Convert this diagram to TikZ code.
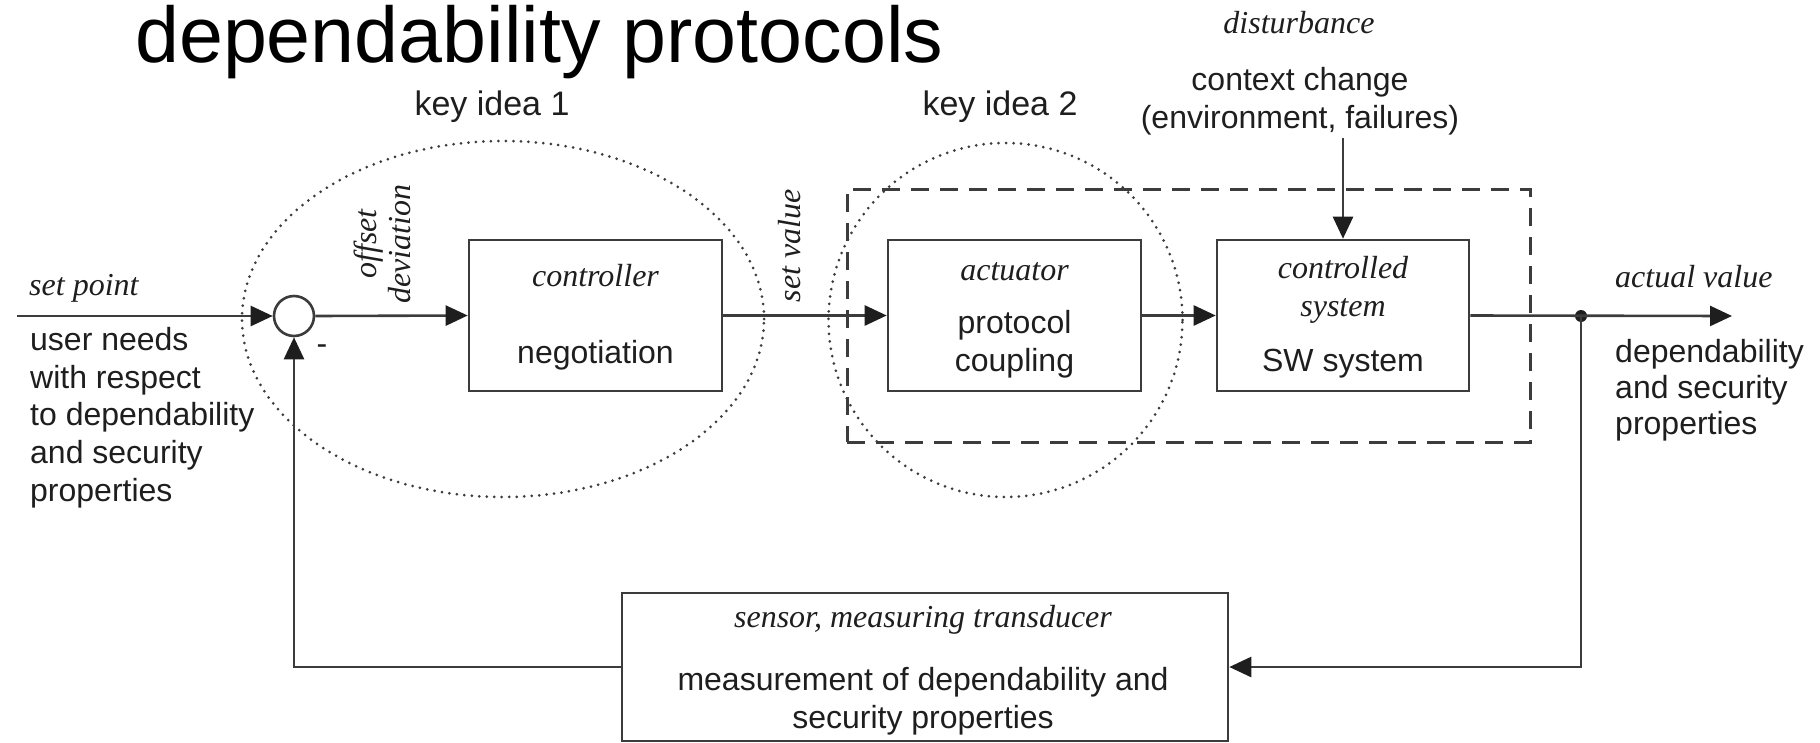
\documentclass[tikz,border=0pt]{standalone}
\usepackage{fontspec}
\setmainfont{Liberation Sans}
\newfontfamily\romfam{Liberation Serif}
\usetikzlibrary{arrows.meta,shapes.geometric}

\definecolor{ink}{HTML}{1E1E1E}
\definecolor{wire}{HTML}{3C3C3C}

\tikzset{
  sans/.style={font=\fontsize{32}{37.5}\selectfont, text=ink, inner sep=0pt},
  heading/.style={font=\fontsize{34}{40}\selectfont, text=ink, inner sep=0pt},
  ital/.style={font=\romfam\itshape\fontsize{32}{37.5}\selectfont, text=ink, inner sep=0pt},
  block/.style={draw=wire, line width=2.6pt, minimum width=253pt, minimum height=151pt, inner sep=0pt},
  wireline/.style={draw=wire, line width=2.6pt},
  flow/.style={wireline, -{Triangle[length=22pt,width=20pt,color=ink]}},
  idea/.style={draw=wire, line width=3pt, line cap=round, dash pattern=on 0pt off 7.5pt, inner sep=0pt},
  plantbox/.style={draw=wire, line width=3pt, dash pattern=on 18pt off 11pt, inner sep=0pt},
}

\begin{document}
\begin{tikzpicture}[x=1pt,y=-1pt]
\useasboundingbox (0,0) rectangle (1820,742);

% dotted groupings of the two key ideas
\node[ellipse, idea, minimum width=522pt, minimum height=356pt] (idea1) at (503,319) {};
\node[circle, idea, minimum size=354pt] (idea2) at (1005.5,320) {};

% headings
\node[anchor=base west, font=\fontsize{79}{90}\selectfont, inner sep=0pt, text=black] (title) at (135,62) {dependability protocols};
\node[heading, anchor=base] (key1) at (492,115) {key idea 1};
\node[heading, anchor=base] (key2) at (1000,115) {key idea 2};

% disturbance input
\node[ital, anchor=base] (dist) at (1299,33) {disturbance};
\node[sans, anchor=base] (ctx1) at (1300,90) {context change};
\node[sans, anchor=base] (ctx2) at (1300,128) {(environment, failures)};

% set point input and summing junction
\coordinate (in) at (17,316);
\node[circle, draw=wire, line width=2.6pt, minimum size=40pt, inner sep=0pt] (sum) at (294,316) {};
\node[ital, anchor=base west] (setpt) at (29,295) {set point};
\foreach \t [count=\i] in {user needs, with respect, to dependability, and security, properties}
  \node[sans, anchor=base west] (need\i) at (30,312.5+37.8*\i) {\t};
\node[sans] (minus) at (322,350) {-};

% controller
\node[block] (ctrl) at (595.5,315.5) {};
\node[ital, anchor=base] (ctrlname) at (595.5,286) {controller};
\node[sans, anchor=base] (ctrltask) at (595.5,363) {negotiation};
\node[ital, rotate=90, align=center, font=\romfam\itshape\fontsize{32}{34}\selectfont] (offdev) at (382,244) {offset\\deviation};

% actuator
\node[block] (act) at (1014.5,315.5) {};
\node[ital, anchor=base] (actname) at (1014.5,280) {actuator};
\node[sans, anchor=base] (acttask1) at (1014.5,333) {protocol};
\node[sans, anchor=base] (acttask2) at (1014.5,371) {coupling};
\node[ital, rotate=90] (setval) at (790,246) {set value};

% controlled system
\node[block, minimum width=252pt] (plant) at (1343,315.5) {};
\node[ital, anchor=base] (plantname1) at (1343,278) {controlled};
\node[ital, anchor=base] (plantname2) at (1343,316) {system};
\node[sans, anchor=base] (planttask) at (1343,371) {SW system};
\node[plantbox, minimum width=683pt, minimum height=253pt] (loop) at (1188.5,315.5) {};

% output
\coordinate (distin) at (1343,138);
\coordinate (out) at (1732,316);
\node[circle, fill=ink, minimum size=12pt, inner sep=0pt] (branch) at (1581,316) {};
\node[ital, anchor=base west] (actval) at (1615,287) {actual value};
\foreach \t [count=\i] in {dependability, and security, properties}
  \node[sans, anchor=base west] (prop\i) at (1615,326+36*\i) {\t};

% sensor
\node[draw=wire, line width=2.6pt, minimum width=606pt, minimum height=148pt, inner sep=0pt] (sensor) at (925,667) {};
\node[ital, anchor=base] (sensname) at (923,627) {sensor, measuring transducer};
\node[sans, anchor=base] (senstask1) at (923,690) {measurement of dependability and};
\node[sans, anchor=base] (senstask2) at (923,728) {security properties};

% signal flow
\draw[flow] (in) -- (sum.west);
\draw[flow] (sum.east) -- (ctrl.west);
\draw[flow] (ctrl.east) -- (act.west);
\draw[flow] (act.east) -- (plant.west);
\draw[flow] (distin) -- (plant.north);
\draw[flow] (plant.east) -- (out);
\draw[flow] (branch.center) |- (sensor.east);
\draw[flow] (sensor.west) -| (sum.south);
\end{tikzpicture}
\end{document}
